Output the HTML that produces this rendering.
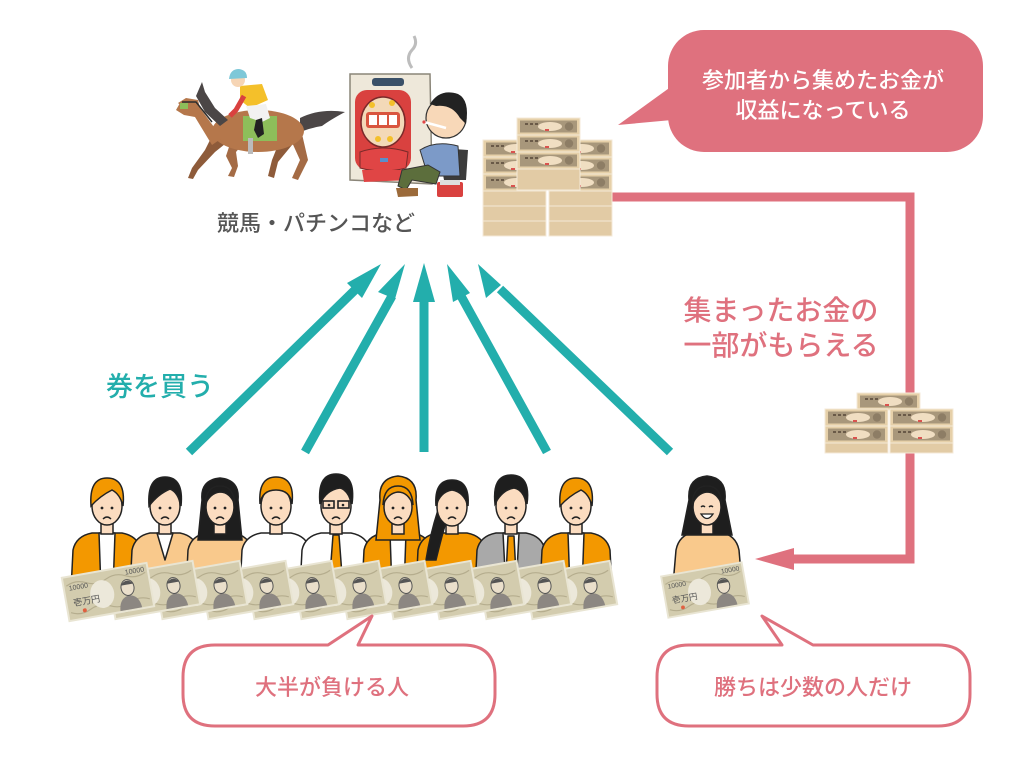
<!DOCTYPE html>
<html><head><meta charset="utf-8"><style>
html,body{margin:0;padding:0;background:#fff;}
svg{display:block;}
text{font-family:"Liberation Sans","Noto Sans CJK JP",sans-serif;}
</style></head><body>
<svg width="1024" height="768" viewBox="0 0 1024 768" xmlns="http://www.w3.org/2000/svg">
<defs>
<g id="bill">
<rect x="-44" y="-23" width="88" height="46" fill="#E9E5D3"/>
<rect x="-42" y="-21" width="84" height="42" fill="#D3CCAE"/>
<path d="M-40 -13 Q-30 -18 -20 -13 T0 -13 T20 -13 T40 -13" stroke="#B5AD8E" stroke-width="1.2" fill="none"/>
<path d="M-40 14 Q-30 19 -20 14 T0 14 T20 14 T40 14" stroke="#B5AD8E" stroke-width="1.2" fill="none"/>
<ellipse cx="-6" cy="1" rx="12" ry="14" fill="#ECE8DA"/>
<path d="M9 21 Q10 8 20 7 Q30 8 31 21 Z" fill="#8C8782"/>
<ellipse cx="20" cy="-1" rx="6.5" ry="8" fill="#EADFCB" stroke="#555" stroke-width="1"/>
<path d="M13.5 -4 Q20 -12 26.5 -4" fill="#555"/>
</g>
<g id="mf">
<rect width="63" height="17" fill="#E6D0A9"/>
<rect x="3" y="2.5" width="57" height="12" fill="#A8977B"/>
<ellipse cx="33" cy="8.5" rx="12" ry="4.5" fill="#F0DEC2"/>
<circle cx="52" cy="8.5" r="4.2" fill="#8D7D65"/>
<rect x="8" y="5" width="3" height="2" fill="#6a5a48"/><rect x="13" y="5" width="3" height="2" fill="#6a5a48"/><rect x="18" y="5" width="3" height="2" fill="#6a5a48"/>
<rect x="28" y="11" width="4" height="2" fill="#D9534F"/>
<rect width="63" height="17" fill="none" stroke="#F4EAD8" stroke-width="1"/>
</g>
<g id="mp">
<rect width="63" height="15" fill="#E2CBA5" stroke="#F4EAD8" stroke-width="1"/>
</g>
</defs>

<!-- pink connector -->
<path d="M612 197 L910 197 L910 559 L792 559" fill="none" stroke="#DF717E" stroke-width="9"/>
<polygon points="755,559 794,548 794,570" fill="#DF717E"/>

<!-- top money stack -->
<use href="#mf" x="483" y="140"/><use href="#mf" x="549" y="140"/>
<use href="#mf" x="483" y="157"/><use href="#mf" x="549" y="157"/>
<use href="#mf" x="483" y="174"/><use href="#mf" x="549" y="174"/>
<use href="#mp" x="483" y="191"/><use href="#mp" x="549" y="191"/>
<use href="#mp" x="483" y="206"/><use href="#mp" x="549" y="206"/>
<use href="#mp" x="483" y="221"/><use href="#mp" x="549" y="221"/>
<use href="#mf" x="517" y="118"/>
<use href="#mf" x="517" y="135"/>
<use href="#mf" x="517" y="152"/>
<rect x="517" y="169" width="63" height="21" fill="#E2CBA5" stroke="#F4EAD8" stroke-width="1"/>

<!-- small money stack -->
<use href="#mf" x="857" y="393"/>
<use href="#mf" x="825" y="409"/><use href="#mf" x="890" y="409"/>
<use href="#mf" x="825" y="426"/><use href="#mf" x="890" y="426"/>
<rect x="825" y="443" width="63" height="10" fill="#E2CBA5" stroke="#F4EAD8" stroke-width="1"/>
<rect x="890" y="443" width="63" height="10" fill="#E2CBA5" stroke="#F4EAD8" stroke-width="1"/>

<!-- top bubble -->
<rect x="668" y="30" width="315" height="122" rx="36" fill="#DF717E"/>
<polygon points="672,86 618,125 672,120" fill="#DF717E"/>
<text x="823" y="88" font-size="22" fill="#fff" text-anchor="middle" font-weight="500">参加者から集めたお金が</text>
<text x="823" y="118" font-size="22" fill="#fff" text-anchor="middle" font-weight="500">収益になっている</text>

<!-- pink label -->
<text x="781" y="320" font-size="28" fill="#DF717E" text-anchor="middle" font-weight="500">集まったお金の</text>
<text x="781" y="355" font-size="28" fill="#DF717E" text-anchor="middle" font-weight="500">一部がもらえる</text>

<!-- horse -->
<g>
<path d="M300 118 Q320 108 345 112 Q330 120 322 126 Q310 128 300 132 Z" fill="#4B4646"/>
<path d="M217 126 L205 150 L192 168 L188 178 L193 179 L198 170 L215 152 L230 140 Z" fill="#8E5B3A"/>
<path d="M232 138 L226 156 L232 168 L228 176 L234 177 L238 166 L236 152 L246 140 Z" fill="#A46B45"/>
<path d="M280 140 L272 160 L268 176 L274 178 L278 162 L292 145 Z" fill="#8E5B3A"/>
<path d="M290 138 L300 160 L292 178 L298 180 L308 160 L302 134 Z" fill="#A46B45"/>
<ellipse cx="258" cy="131" rx="46" ry="21" fill="#B5774B"/>
<path d="M222 138 L200 108 L190 103 L180 103 L176 110 L184 115 L195 117 L212 145 Z" fill="#B5774B"/>
<path d="M196 96 L202 82 L205 92 L215 108 L228 120 L220 126 L205 112 Z" fill="#4B4646"/>
<path d="M178 103 L186 98 L198 100 L200 108 L186 110 Z" fill="#B5774B"/>
<path d="M182 102 L196 102 L212 122" stroke="#2d2d2d" stroke-width="1.5" fill="none"/>
<rect x="180" y="103" width="8" height="6" fill="#8DBE5A"/>
<rect x="243" y="116" width="34" height="25" fill="#8DBE5A"/>
<rect x="248" y="138" width="5" height="16" fill="#BBBBBB"/>
<path d="M240 86 L262 84 L268 100 L250 108 L240 100 Z" fill="#F4C02A"/>
<path d="M244 96 L236 110 L230 116" stroke="#D9413F" stroke-width="5" fill="none"/>
<path d="M246 106 L266 104 L270 118 L262 122 L250 118 Z" fill="#F2F2F2"/>
<path d="M262 118 L264 134 L258 138 L254 130 L256 120 Z" fill="#222"/>
<circle cx="238" cy="80" r="7" fill="#F6D5B5"/>
<path d="M229 79 Q230 69 239 69 Q247 70 247 78 Z" fill="#7EC8D8"/>
</g>

<!-- pachinko -->
<g>
<path d="M412 68 Q405 58 412 50 Q418 44 414 36" stroke="#BDBDBD" stroke-width="3" fill="none"/>
<path d="M350 74 L430 74 L432 184 L350 180 Z" fill="#EEE8DA" stroke="#8a8578" stroke-width="1.5"/>
<rect x="372" y="78" width="32" height="8" rx="3" fill="#3A5068"/>
<rect x="355" y="90" width="56" height="80" rx="12" fill="#D9413F"/>
<ellipse cx="383" cy="122" rx="22" ry="25" fill="#F3D9B8" stroke="#7a2a2a" stroke-width="1.5"/>
<rect x="366" y="112" width="34" height="16" rx="3" fill="#D9553F"/>
<rect x="369" y="115" width="8" height="10" fill="#fff"/><rect x="379" y="115" width="8" height="10" fill="#fff"/><rect x="389" y="115" width="8" height="10" fill="#fff"/>
<circle cx="372" cy="105" r="3" fill="#F4C02A"/><circle cx="392" cy="103" r="3" fill="#F4C02A"/><circle cx="378" cy="139" r="3" fill="#F4C02A"/><circle cx="390" cy="139" r="3" fill="#F4C02A"/>
<path d="M360 152 Q383 144 408 152 L406 168 Q383 174 360 168 Z" fill="#E04545" stroke="#7a2a2a" stroke-width="1"/>
<path d="M362 170 L408 170 L410 180 L364 182 Z" fill="#E04545"/>
<rect x="380" y="158" width="8" height="4" fill="#5A8FCC"/>
</g>
<!-- pachinko man -->
<g>
<path d="M438 148 L468 150 L466 180 L444 180 Z" fill="#3c3c3c"/>
<path d="M420 150 Q436 140 458 146 L460 176 L428 176 Z" fill="#7C9AC8" stroke="#333" stroke-width="1"/>
<path d="M402 170 L428 165 L440 172 L436 184 L412 180 L406 190 L398 186 Z" fill="#5C6E3C" stroke="#333" stroke-width="1"/>
<path d="M396 188 L418 188 L418 196 L398 197 Z" fill="#9B6A3A"/>
<rect x="437" y="182" width="26" height="15" rx="2" fill="#D9413F"/>
<rect x="440" y="180" width="20" height="5" fill="#ddd"/>
<ellipse cx="446" cy="118" rx="20" ry="20" fill="#F8D8B8" stroke="#333" stroke-width="1.2"/>
<path d="M430 104 Q440 88 458 94 Q470 100 466 124 L460 118 Q452 104 436 106 Z" fill="#222"/>
<path d="M424 122 L446 128" stroke="#fff" stroke-width="2.5"/>
<circle cx="424" cy="122" r="1.6" fill="#E04545"/>
</g>

<text x="316" y="231" font-size="22" fill="#555" text-anchor="middle" font-weight="500">競馬・パチンコなど</text>

<!-- teal arrows -->
<g stroke="#23AEAC" stroke-width="9" fill="none">
<line x1="189" y1="452" x2="357" y2="288"/>
<line x1="305" y1="452" x2="392" y2="296"/>
<line x1="424" y1="452" x2="424" y2="298"/>
<line x1="547" y1="452" x2="461" y2="296"/>
<line x1="670" y1="452" x2="500" y2="289"/>
</g>
<g fill="#23AEAC">
<polygon points="381,264 347,283 362,298"/>
<polygon points="405,264 378,292 395,299"/>
<polygon points="424,263 413,302 435,302"/>
<polygon points="447,264 453,302 470,293"/>
<polygon points="478,264 486,298 501,285"/>
</g>
<text x="160" y="396" font-size="27" fill="#23AEAC" text-anchor="middle" font-weight="500">券を買う</text>

<!-- people -->
<g stroke="#222" stroke-width="1.5" stroke-linejoin="round">
<path d="M71 590 L73 550 Q76 536 92 533 L122 533 Q138 536 141 550 L143 590 Z" fill="#F39800"/>
<path d="M99 533 L115 533 L113 590 L101 590 Z" fill="#fff"/>
<path d="M130 590 L132 550 Q135 536 150 533 L180 533 Q195 536 198 550 L200 590 Z" fill="#F9C98C"/>
<path d="M157 533 L173 533 L165 560 Z" fill="#fff"/>
<path d="M186 590 L188 550 Q191 536 206 533 L234 533 Q249 536 252 550 L254 590 Z" fill="#F9C98C"/>
<path d="M240 590 L242 550 Q245 536 261 533 L291 533 Q307 536 310 550 L312 590 Z" fill="#fff"/>
<path d="M300 590 L302 550 Q305 536 321 533 L351 533 Q367 536 370 550 L372 590 Z" fill="#fff"/>
<path d="M333 535 L339 535 L342 575 L336 582 L330 575 Z" fill="#F39800"/>
<path d="M362 590 L364 550 Q367 536 383 533 L413 533 Q429 536 432 550 L434 590 Z" fill="#F39800"/>
<path d="M390 533 L406 533 L404 590 L392 590 Z" fill="#fff"/>
<path d="M416 590 L418 550 Q421 536 437 533 L467 533 Q483 536 486 550 L488 590 Z" fill="#F39800"/>
<path d="M475 590 L477 550 Q480 536 496 533 L526 533 Q542 536 545 550 L547 590 Z" fill="#A9A9A9"/>
<path d="M503 533 L519 533 L516 590 L506 590 Z" fill="#fff"/>
<path d="M508 536 L514 536 L516 575 L511 582 L506 575 Z" fill="#F39800"/>
<path d="M540 590 L542 550 Q545 536 561 533 L591 533 Q607 536 610 550 L612 590 Z" fill="#F39800"/>
<path d="M568 533 L584 533 L582 590 L570 590 Z" fill="#fff"/>
<path d="M673 585 L676 550 Q679 535 694 532 L720 532 Q736 535 739 550 L742 585 Z" fill="#F9C98C"/>
</g>

<g stroke="#222" stroke-width="1.5">
<path d="M202 500 Q200 480 220 478 Q240 480 238 500 L242 540 L198 540 Z" fill="#1E1E1E"/>
<path d="M380 500 Q378 478 398 476 Q418 478 416 500 L420 540 L376 540 Z" fill="#F39800"/>
<path d="M438 510 Q430 535 426 560 L436 560 Q442 535 448 515 Z" fill="#1E1E1E"/>
<path d="M689 500 Q687 478 707 476 Q727 478 725 500 L732 535 L682 535 Z" fill="#1E1E1E"/>
</g>

<g stroke="#222" stroke-width="1.5">
<rect x="101" y="518" width="12" height="16" fill="#FBDCC0"/>
<ellipse cx="107" cy="506" rx="15" ry="19" fill="#FBDCC0"/>
<path d="M91 506 Q89 478 107 478 Q126 478 123 506 Q120 494 112 490 Q100 496 91 506 Z" fill="#F39800"/>
<rect x="159" y="518" width="12" height="16" fill="#FBDCC0"/>
<ellipse cx="165" cy="506" rx="15" ry="19" fill="#FBDCC0"/>
<path d="M149 506 Q147 477 165 477 Q184 477 181 506 Q178 492 170 489 Q158 494 149 506 Z" fill="#1E1E1E"/>
<rect x="214" y="518" width="12" height="16" fill="#FBDCC0"/>
<ellipse cx="220" cy="507" rx="14" ry="18" fill="#FBDCC0"/>
<path d="M205 505 Q206 486 220 486 Q234 486 235 505 Q230 492 220 492 Q210 493 205 505 Z" fill="#1E1E1E"/>
<rect x="270" y="518" width="12" height="16" fill="#FBDCC0"/>
<ellipse cx="276" cy="506" rx="15" ry="19" fill="#FBDCC0"/>
<path d="M260 504 Q258 477 276 477 Q295 477 292 504 Q290 490 276 490 Q262 490 260 504 Z" fill="#F39800"/>
<rect x="330" y="518" width="12" height="16" fill="#FBDCC0"/>
<ellipse cx="336" cy="506" rx="15" ry="19" fill="#FBDCC0"/>
<path d="M320 504 Q317 474 336 474 Q356 474 352 504 Q350 490 340 488 Q326 490 320 504 Z" fill="#1E1E1E"/>
<rect x="323" y="501" width="11" height="7" fill="none" stroke-width="1.6"/><rect x="338" y="501" width="11" height="7" fill="none" stroke-width="1.6"/>
<rect x="392" y="518" width="12" height="16" fill="#FBDCC0"/>
<ellipse cx="398" cy="507" rx="14" ry="18" fill="#FBDCC0"/>
<path d="M383 505 Q384 486 398 486 Q412 486 413 505 Q408 492 398 492 Q388 493 383 505 Z" fill="#F39800"/>
<rect x="446" y="518" width="12" height="16" fill="#FBDCC0"/>
<ellipse cx="452" cy="507" rx="15" ry="19" fill="#FBDCC0"/>
<path d="M436 506 Q434 480 452 480 Q470 480 468 506 Q464 492 452 490 Q440 492 436 506 Z" fill="#1E1E1E"/>
<rect x="505" y="518" width="12" height="16" fill="#FBDCC0"/>
<ellipse cx="511" cy="506" rx="15" ry="19" fill="#FBDCC0"/>
<path d="M495 504 Q492 475 511 475 Q531 475 527 504 Q524 490 514 488 Q502 490 495 504 Z" fill="#1E1E1E"/>
<rect x="570" y="518" width="12" height="16" fill="#FBDCC0"/>
<ellipse cx="576" cy="506" rx="15" ry="19" fill="#FBDCC0"/>
<path d="M560 506 Q558 478 576 478 Q595 478 592 506 Q589 494 581 490 Q569 496 560 506 Z" fill="#F39800"/>
<rect x="701" y="518" width="12" height="16" fill="#FBDCC0"/>
<ellipse cx="707" cy="507" rx="14" ry="18" fill="#FBDCC0"/>
<path d="M692 505 Q693 486 707 486 Q721 486 722 505 Q717 492 707 492 Q697 493 692 505 Z" fill="#1E1E1E"/>
</g>
<g fill="#222">
<circle cx="102" cy="508" r="1.4"/><circle cx="112" cy="508" r="1.4"/>
<circle cx="160" cy="508" r="1.4"/><circle cx="170" cy="508" r="1.4"/>
<circle cx="215" cy="508" r="1.4"/><circle cx="225" cy="508" r="1.4"/>
<circle cx="271" cy="508" r="1.4"/><circle cx="281" cy="508" r="1.4"/>
<circle cx="329" cy="505" r="1.3"/><circle cx="343" cy="505" r="1.3"/>
<circle cx="393" cy="508" r="1.4"/><circle cx="403" cy="508" r="1.4"/>
<circle cx="447" cy="508" r="1.4"/><circle cx="457" cy="508" r="1.4"/>
<circle cx="506" cy="508" r="1.4"/><circle cx="516" cy="508" r="1.4"/>
<circle cx="571" cy="508" r="1.4"/><circle cx="581" cy="508" r="1.4"/>
</g>
<g stroke="#222" stroke-width="1.4" fill="none">
<path d="M103 519 Q107 515 111 519"/><path d="M161 519 Q165 515 169 519"/><path d="M216 519 Q220 515 224 519"/>
<path d="M272 519 Q276 515 280 519"/><path d="M332 519 Q336 515 340 519"/><path d="M394 519 Q398 515 402 519"/>
<path d="M448 519 Q452 515 456 519"/><path d="M507 519 Q511 515 515 519"/><path d="M572 519 Q576 515 580 519"/>
<path d="M701 507 Q703 505 705 507"/><path d="M709 507 Q711 505 713 507"/>
</g>
<path d="M701 514 Q707 523 713 514 Z" fill="#fff" stroke="#222" stroke-width="1.3"/>

<use href="#bill" transform="translate(571,590) rotate(-10)"/>
<use href="#bill" transform="translate(525,590) rotate(-10)"/>
<use href="#bill" transform="translate(478,590) rotate(-10)"/>
<use href="#bill" transform="translate(432,590) rotate(-10)"/>
<use href="#bill" transform="translate(386,590) rotate(-10)"/>
<use href="#bill" transform="translate(340,590) rotate(-10)"/>
<use href="#bill" transform="translate(293,590) rotate(-10)"/>
<use href="#bill" transform="translate(247,590) rotate(-10)"/>
<use href="#bill" transform="translate(201,590) rotate(-10)"/>
<use href="#bill" transform="translate(154,590) rotate(-10)"/>
<g transform="translate(108,592) rotate(-10)">
<use href="#bill"/>
<text x="-38" y="-8" font-size="7" fill="#555">10000</text>
<text x="20" y="-14" font-size="7" fill="#555">10000</text>
<text x="-36" y="8" font-size="9" fill="#555">壱万円</text>
<circle cx="-26" cy="14" r="2" fill="#E06040"/>
</g>
<g transform="translate(705,590) rotate(-10) scale(0.95)">
<use href="#bill"/>
<text x="-38" y="-8" font-size="7" fill="#555">10000</text>
<text x="20" y="-14" font-size="7" fill="#555">10000</text>
<text x="-36" y="8" font-size="9" fill="#555">壱万円</text>
<circle cx="-26" cy="14" r="2" fill="#E06040"/>
</g>

<path d="M215 645 L328 645 L372 616 L358 645 L463 645 Q495 645 495 677 L495 694 Q495 726 463 726 L215 726 Q183 726 183 694 L183 677 Q183 645 215 645 Z" fill="#fff" stroke="#DF717E" stroke-width="3" stroke-linejoin="round"/>
<text x="332" y="695" font-size="22" fill="#DF717E" text-anchor="middle" font-weight="500">大半が負ける人</text>
<path d="M689 645 L782 645 L762 616 L813 645 L938 645 Q970 645 970 677 L970 694 Q970 726 938 726 L689 726 Q657 726 657 694 L657 677 Q657 645 689 645 Z" fill="#fff" stroke="#DF717E" stroke-width="3" stroke-linejoin="round"/>
<text x="813" y="695" font-size="22" fill="#DF717E" text-anchor="middle" font-weight="500">勝ちは少数の人だけ</text>
</svg>
</body></html>
